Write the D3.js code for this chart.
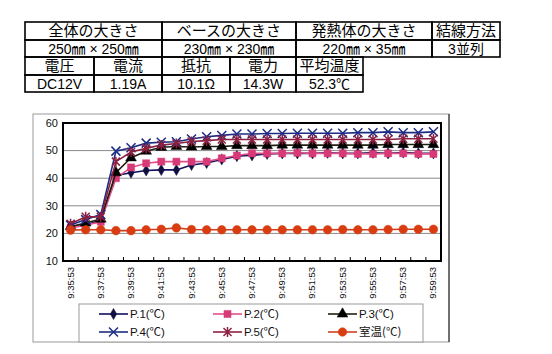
<!DOCTYPE html>
<html>
<head>
<meta charset="utf-8">
<script src="https://cdn.jsdelivr.net/npm/d3@7"></script>
<style>
  body { margin: 0; background: #fff; }
  svg text { font-family: "Liberation Sans", Arial, "Noto Sans CJK JP", sans-serif; }
  .jp { font-family: "Noto Sans CJK JP", sans-serif; }
</style>
</head>
<body>
<svg id="chart" width="552" height="354"></svg>
<script>
// spec table
const specHead = ["全体の大きさ", "ベースの大きさ", "発熱体の大きさ", "結線方法"];
const specVals = ["250㎜ × 250㎜", "230㎜ × 230㎜", "220㎜ × 35㎜", "3並列"];
const elecHead = ["電圧", "電流", "抵抗", "電力", "平均温度"];
const elecVals = ["DC12V", "1.19A", "10.1Ω", "14.3W", "52.3℃"];

// chart data, one reading per minute
const times = ["9:35:53", "9:36:53", "9:37:53", "9:38:53", "9:39:53", "9:40:53", "9:41:53",
  "9:42:53", "9:43:53", "9:44:53", "9:45:53", "9:46:53", "9:47:53", "9:48:53", "9:49:53",
  "9:50:53", "9:51:53", "9:52:53", "9:53:53", "9:54:53", "9:55:53", "9:56:53", "9:57:53",
  "9:58:53", "9:59:53"];
const p1 = [22.3, 23.0, 24.8, 41.0, 42.0, 42.8, 43.0, 43.0, 44.8, 45.5, 46.8, 48.0, 48.3, 48.8, 49.0,
  49.0, 49.0, 49.2, 49.0, 49.0, 49.2, 49.0, 49.3, 49.0, 49.0];
const p2 = [22.0, 23.0, 24.2, 40.0, 43.9, 45.4, 46.0, 46.0, 46.0, 46.0, 47.2, 48.2, 49.0, 49.0, 49.0,
  49.2, 49.0, 49.0, 49.0, 48.8, 48.8, 49.0, 49.0, 48.8, 48.8];
const p3 = [22.5, 23.8, 25.2, 42.0, 47.4, 49.8, 51.2, 51.5, 51.3, 51.5, 51.5, 51.8, 51.8, 51.8, 52.0,
  52.0, 52.0, 52.0, 52.0, 52.0, 52.0, 52.2, 52.2, 52.2, 52.2];
const p4 = [23.0, 25.0, 26.8, 49.8, 51.0, 52.7, 53.0, 53.2, 54.2, 55.0, 55.5, 56.0, 56.0, 56.2, 56.2,
  56.3, 56.3, 56.3, 56.3, 56.5, 56.5, 56.8, 56.5, 56.5, 56.8];
const p5 = [23.5, 26.0, 26.0, 46.0, 49.5, 50.8, 52.0, 52.6, 53.3, 53.6, 54.0, 54.0, 54.0, 54.0, 54.0,
  54.0, 54.0, 54.0, 54.0, 54.0, 54.0, 54.0, 54.3, 54.3, 54.3];
const room = [21.2, 21.3, 21.3, 21.0, 21.0, 21.3, 21.5, 22.0, 21.4, 21.3, 21.3, 21.3, 21.3, 21.3, 21.3,
  21.3, 21.3, 21.3, 21.4, 21.3, 21.3, 21.4, 21.5, 21.5, 21.5];
const seriesNames = ["P.1(℃)", "P.2(℃)", "P.3(℃)", "P.4(℃)", "P.5(℃)", "室温(℃)"];
const yTicks = [10, 20, 30, 40, 50, 60];

const svg = d3.select("#chart");

// ---------- table ----------
function drawRow(cols, y0, y1, labels, fs) {
  const g = svg.append("g");
  for (let i = 0; i < labels.length; i++) {
    g.append("rect")
      .attr("x", cols[i]).attr("y", y0)
      .attr("width", cols[i + 1] - cols[i]).attr("height", y1 - y0)
      .attr("fill", "none").attr("stroke", "#000").attr("stroke-width", 1.6);
    g.append("text")
      .attr("class", /^[\u3000-\u9fff]/.test(labels[i]) ? "jp" : null)
      .attr("x", (cols[i] + cols[i + 1]) / 2)
      .attr("y", (y0 + y1) / 2)
      .attr("dy", "0.36em")
      .attr("text-anchor", "middle")
      .attr("font-size", fs)
      .attr("fill", "#000")
      .text(labels[i]);
  }
}
const colsTop = [25, 162, 296, 432, 500];
const colsBot = [25, 94, 162, 230, 296, 363];
drawRow(colsTop, 22, 40, specHead, 15);
drawRow(colsTop, 40, 57, specVals, 14);
drawRow(colsBot, 57, 75, elecHead, 15);
drawRow(colsBot, 75, 92, elecVals, 14);

// ---------- chart ----------
const margin = {left: 63, top: 123, right: 441, bottom: 261};

svg.append("rect")
  .attr("x", 33).attr("y", 114).attr("width", 416).attr("height", 228)
  .attr("fill", "#fff").attr("stroke", "#999").attr("stroke-width", 1);
svg.append("line").attr("x1", 449).attr("x2", 449).attr("y1", 114).attr("y2", 342)
  .attr("stroke", "#333").attr("stroke-width", 1.2);

const x = d3.scaleBand().domain(times).range([margin.left, margin.right]);
const y = d3.scaleLinear().domain([10, 60]).range([margin.bottom, margin.top]);
const cx = d => x(d) + x.bandwidth() / 2;

// gridlines
svg.append("g").selectAll("line").data(yTicks.slice(1, -1)).enter().append("line")
  .attr("x1", margin.left).attr("x2", margin.right)
  .attr("y1", d => y(d)).attr("y2", d => y(d))
  .attr("stroke", "#8a8a8a").attr("stroke-width", 1);

// plot border
svg.append("rect")
  .attr("x", margin.left).attr("y", margin.top)
  .attr("width", margin.right - margin.left).attr("height", margin.bottom - margin.top)
  .attr("fill", "none").attr("stroke", "#000").attr("stroke-width", 2);

// y labels
svg.append("g").selectAll("text").data(yTicks).enter().append("text")
  .attr("x", margin.left - 5).attr("y", d => y(d)).attr("dy", "0.35em")
  .attr("text-anchor", "end").attr("font-size", 11).attr("fill", "#111")
  .text(d => d);

// x ticks between categories (inside)
svg.append("g").selectAll("line").data(times.slice(1)).enter().append("line")
  .attr("x1", d => x(d)).attr("x2", d => x(d))
  .attr("y1", margin.bottom).attr("y2", margin.bottom - 4)
  .attr("stroke", "#000").attr("stroke-width", 1);

// x labels, every 2nd minute
svg.append("g").selectAll("text").data(times.filter((d, i) => i % 2 === 0)).enter().append("text")
  .attr("transform", d => `translate(${cx(d) + 3},${margin.bottom + 6}) rotate(-90)`)
  .attr("text-anchor", "end").attr("font-size", 9.5).attr("fill", "#111")
  .text(d => d);

// markers
const sym = {
  diamond: d3.symbol().type(d3.symbolDiamond).size(36),
  square: d3.symbol().type(d3.symbolSquare).size(50),
  triangle: d3.symbol().type(d3.symbolTriangle).size(50),
  circle: d3.symbol().type(d3.symbolCircle).size(58)
};
const series = [
  {name: seriesNames[0], vals: p1, line: "#101060", fill: "#101040", mark: "diamond"},
  {name: seriesNames[1], vals: p2, line: "#e2508a", fill: "#d83a78", mark: "square"},
  {name: seriesNames[2], vals: p3, line: "#202010", fill: "#000", mark: "triangle"},
  {name: seriesNames[3], vals: p4, line: "#1c2c84", fill: "#1c2c84", mark: "x"},
  {name: seriesNames[4], vals: p5, line: "#8c2040", fill: "#8c2040", mark: "star"},
  {name: seriesNames[5], vals: room, line: "#d04020", fill: "#d83c10", mark: "circle"}
];

function drawMarker(g, s, px, py) {
  if (s.mark === "x") {
    g.append("path").attr("d", `M${px - 4.5},${py - 4.5}L${px + 4.5},${py + 4.5}M${px - 4.5},${py + 4.5}L${px + 4.5},${py - 4.5}`)
      .attr("stroke", s.fill).attr("stroke-width", 1.5).attr("fill", "none");
  } else if (s.mark === "star") {
    g.append("path").attr("d", `M${px - 4},${py - 4}L${px + 4},${py + 4}M${px - 4},${py + 4}L${px + 4},${py - 4}M${px},${py - 5}L${px},${py + 5}`)
      .attr("stroke", s.fill).attr("stroke-width", 1.5).attr("fill", "none");
  } else {
    g.append("path").attr("d", sym[s.mark]()).attr("transform", `translate(${px},${py})`)
      .attr("fill", s.fill).attr("stroke", s.fill).attr("stroke-width", 0.5);
  }
}

const lineGen = d3.line().x((d, i) => cx(times[i])).y(d => y(d));
series.forEach(s => {
  const g = svg.append("g");
  g.append("path").datum(s.vals).attr("d", lineGen)
    .attr("fill", "none").attr("stroke", s.line).attr("stroke-width", 1.6);
  s.vals.forEach((v, i) => drawMarker(g, s, cx(times[i]), y(v)));
});

// legend
const legend = svg.append("g");
legend.append("rect").attr("x", 79).attr("y", 304).attr("width", 344).attr("height", 38)
  .attr("fill", "#fff").attr("stroke", "#999").attr("stroke-width", 1);
const legCols = [99, 213, 328];
const legRows = [314, 332];
series.forEach((s, i) => {
  const lx = legCols[i % 3], ly = legRows[Math.floor(i / 3)];
  legend.append("line").attr("x1", lx).attr("x2", lx + 29).attr("y1", ly).attr("y2", ly)
    .attr("stroke", s.line).attr("stroke-width", 1.6);
  drawMarker(legend, s, lx + 14.5, ly);
  legend.append("text").attr("class", i === 5 ? "jp" : null)
    .attr("x", lx + 31).attr("y", ly).attr("dy", "0.36em")
    .attr("font-size", 11.5).attr("fill", "#111").text(s.name);
});
</script>
</body>
</html>
